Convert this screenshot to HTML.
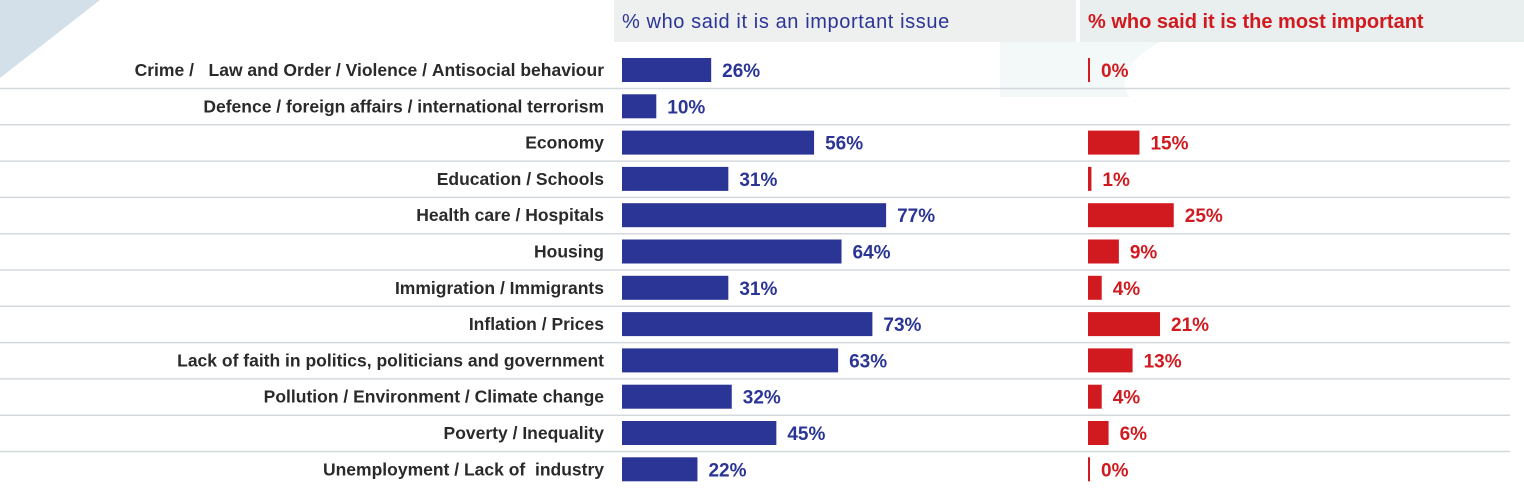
<!DOCTYPE html>
<html><head><meta charset="utf-8"><style>
body{margin:0;width:1524px;height:489px;background:#fff;font-family:"Liberation Sans",sans-serif;overflow:hidden;position:relative}
svg{position:absolute;left:0;top:0}
</style></head><body>
<svg width="1524" height="489" id="chart">
<polygon points="0,0 100,0 0,78" fill="#d3e0ea"/>
<path d="M1000,42 L1160,42 Q1110,70 1130,97 L1000,97 Z" fill="#f3f8f8"/>
<rect x="614" y="0" width="462" height="42" fill="#eef0f0"/>
<rect x="1080" y="0" width="444" height="42" fill="#e9eeee"/>
<text x="622" y="28" font-size="20" letter-spacing="0.6" fill="#2b3595">% who said it is an important issue</text>
<text x="1088" y="28" font-size="20" fill="#d11a1f" font-weight="bold">% who said it is the most important</text>
</svg>
<script>
const categories=["Crime /   Law and Order / Violence / Antisocial behaviour","Defence / foreign affairs / international terrorism","Economy","Education / Schools","Health care / Hospitals","Housing","Immigration / Immigrants","Inflation / Prices","Lack of faith in politics, politicians and government","Pollution / Environment / Climate change","Poverty / Inequality","Unemployment / Lack of  industry"];
const importantValues=[26,10,56,31,77,64,31,73,63,32,45,22];
const mostImportantValues=[0,null,15,1,25,9,4,21,13,4,6,0];
const svg=document.getElementById('chart');
const NS='http://www.w3.org/2000/svg';
const scale=v=>v*3.43;
const rowY=i=>70+i*36.3;
function mk(tag,attrs){const e=document.createElementNS(NS,tag);for(const k in attrs)e.setAttribute(k,attrs[k]);svg.appendChild(e);return e;}
categories.forEach((c,i)=>{
  const y=rowY(i);
  if(i<categories.length-1){
    const ln=mk('line',{x1:0,x2:1510,y1:y+18.5,y2:y+18.5,stroke:'#d4d9de','stroke-width':1.5});
    
    
  }
  const t=mk('text',{x:604,y:y+6,'text-anchor':'end','font-size':17.5,'font-weight':'bold',fill:'#2a2a2a'});
  t.textContent=c.replace(/ /g,'\u00a0');
  
  
  const v=importantValues[i];
  const b=mk('rect',{x:622,y:y-12,width:scale(v),height:24,fill:'#2b3595'});
  
  
  const bl=mk('text',{x:622+scale(v)+11,y:y+7,'font-size':19,'font-weight':'bold',fill:'#2b3595'});
  bl.textContent=v+'%';
  
  
  const m=mostImportantValues[i];
  if(m!==null){
    const r=mk('rect',{x:1088,y:y-12,width:Math.max(2,scale(m)),height:24,fill:'#d11a1f'});
    
    
    const rl=mk('text',{x:1088+Math.max(2,scale(m))+11,y:y+7,'font-size':19,'font-weight':'bold',fill:'#d11a1f'});
    rl.textContent=m+'%';
    
    
  }
});
</script>
</body></html>
